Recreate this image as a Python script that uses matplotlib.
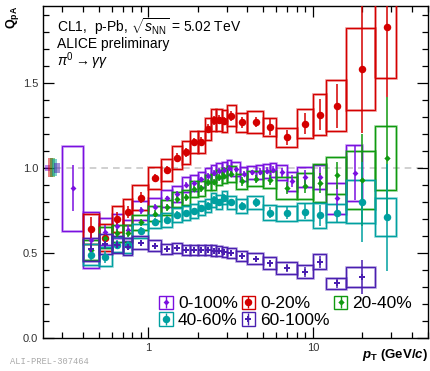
import numpy as np
import matplotlib
matplotlib.use("Agg")
import matplotlib.pyplot as plt
from matplotlib.patches import Rectangle
from matplotlib.lines import Line2D
from matplotlib.ticker import FixedLocator, MultipleLocator, FormatStrFormatter, LogLocator, NullFormatter

plt.rcParams['font.family'] = ['Liberation Sans', 'DejaVu Sans']
plt.rcParams['mathtext.fontset'] = 'custom'
plt.rcParams['mathtext.rm'] = 'Liberation Sans'
plt.rcParams['mathtext.it'] = 'Liberation Sans:italic'
plt.rcParams['mathtext.bf'] = 'Liberation Sans:bold:italic'
plt.rcParams['mathtext.sf'] = 'Liberation Sans:bold'

# pT bin edges
edges_mb = [0.3, 0.4, 0.5, 0.6, 0.7, 0.8, 1.0, 1.2, 1.4, 1.6, 1.8, 2.0, 2.2, 2.4, 2.6, 2.8, 3.0,
            3.2, 3.6, 4.0, 4.5, 5.0, 5.5, 6.0, 7.0, 8.0, 10, 12, 16, 20]
edges_cent = [0.4, 0.5, 0.6, 0.7, 0.8, 1.0, 1.2, 1.4, 1.6, 1.8, 2.0, 2.2, 2.4, 2.6, 2.8, 3.0,
              3.4, 4.0, 5.0, 6.0, 8.0, 10, 12, 16, 24, 32]
edges_per = edges_cent[:-1]

# 0-100%
q_0100 = [0.88, 0.576, 0.625, 0.657, 0.632, 0.75, 0.77, 0.82, 0.846, 0.90, 0.91, 0.933, 0.953, 0.969,
          0.982, 0.988, 1.0, 0.992, 0.965, 0.973, 0.976, 0.982, 0.988, 0.973, 0.92, 0.945, 0.945, 0.82, 0.97]
stat_0100 = [0.135, 0.05, 0.04, 0.03, 0.03, 0.02, 0.015, 0.015, 0.015, 0.015, 0.015, 0.015, 0.015, 0.015,
             0.015, 0.015, 0.015, 0.015, 0.015, 0.015, 0.02, 0.02, 0.02, 0.025, 0.035, 0.04, 0.06, 0.08, 0.16]
sys_0100 = [0.25, 0.165, 0.08, 0.07, 0.06, 0.055, 0.05, 0.05, 0.045, 0.045, 0.045, 0.045, 0.045, 0.045,
            0.045, 0.045, 0.045, 0.04, 0.04, 0.04, 0.04, 0.04, 0.04, 0.045, 0.055, 0.06, 0.07, 0.09, 0.166]

# 0-20%
q_020 = [0.64, 0.59, 0.70, 0.74, 0.825, 0.94, 0.988, 1.06, 1.09, 1.15, 1.153, 1.23, 1.278, 1.283, 1.275,
         1.306, 1.266, 1.268, 1.24, 1.178, 1.259, 1.312, 1.363, 1.582, 1.828]
stat_020 = [0.07, 0.04, 0.04, 0.035, 0.03, 0.025, 0.025, 0.025, 0.025, 0.025, 0.025, 0.025, 0.025, 0.025,
            0.025, 0.03, 0.03, 0.03, 0.045, 0.045, 0.06, 0.09, 0.13, 0.38, 0.41]
sys_020 = [0.09, 0.08, 0.075, 0.075, 0.075, 0.065, 0.065, 0.065, 0.065, 0.065, 0.065, 0.065, 0.065, 0.065,
           0.065, 0.06, 0.055, 0.063, 0.055, 0.058, 0.085, 0.12, 0.15, 0.24, 0.3]

# 20-40%
q_2040 = [0.518, 0.59, 0.616, 0.616, 0.68, 0.73, 0.768, 0.814, 0.827, 0.875, 0.88, 0.914, 0.916, 0.943,
          0.953, 0.963, 0.92, 0.935, 0.929, 0.88, 0.894, 0.91, 0.955, 0.93, 1.057]
stat_2040 = [0.03, 0.03, 0.025, 0.025, 0.02, 0.02, 0.02, 0.02, 0.02, 0.02, 0.02, 0.02, 0.02, 0.02,
             0.02, 0.02, 0.025, 0.025, 0.03, 0.035, 0.045, 0.06, 0.08, 0.27, 0.36]
sys_2040 = [0.06, 0.06, 0.05, 0.05, 0.045, 0.045, 0.045, 0.045, 0.045, 0.045, 0.045, 0.045, 0.045, 0.045,
            0.045, 0.045, 0.045, 0.045, 0.05, 0.065, 0.077, 0.11, 0.11, 0.17, 0.19]

# 40-60%
q_4060 = [0.49, 0.478, 0.548, 0.545, 0.63, 0.684, 0.694, 0.724, 0.733, 0.746, 0.763, 0.778, 0.812, 0.798,
          0.825, 0.797, 0.776, 0.796, 0.737, 0.733, 0.743, 0.72, 0.733, 0.80, 0.71]
stat_4060 = [0.03, 0.035, 0.025, 0.025, 0.02, 0.02, 0.02, 0.02, 0.02, 0.02, 0.02, 0.02, 0.02, 0.02,
             0.02, 0.02, 0.025, 0.025, 0.03, 0.035, 0.045, 0.06, 0.05, 0.235, 0.315]
sys_4060 = [0.06, 0.055, 0.045, 0.045, 0.04, 0.04, 0.04, 0.04, 0.04, 0.04, 0.04, 0.04, 0.04, 0.04,
            0.04, 0.04, 0.04, 0.04, 0.045, 0.045, 0.05, 0.075, 0.054, 0.127, 0.113]

# 60-100%
q_60100 = [0.52, 0.551, 0.547, 0.537, 0.561, 0.543, 0.522, 0.528, 0.516, 0.516, 0.516, 0.516, 0.514, 0.51,
           0.505, 0.498, 0.48, 0.467, 0.439, 0.41, 0.39, 0.449, 0.322, 0.36]
stat_60100 = [0.04, 0.03, 0.025, 0.02, 0.015, 0.012, 0.012, 0.012, 0.012, 0.012, 0.012, 0.012, 0.012, 0.012,
              0.012, 0.012, 0.015, 0.015, 0.02, 0.025, 0.03, 0.035, 0.03, 0.1]
sys_60100 = [0.07, 0.06, 0.05, 0.05, 0.04, 0.03, 0.03, 0.03, 0.03, 0.03, 0.03, 0.03, 0.03, 0.03,
             0.03, 0.03, 0.03, 0.035, 0.035, 0.035, 0.04, 0.042, 0.033, 0.06]

labels = ['0-100%', '0-20%', '20-40%', '40-60%', '60-100%']
norm_unc = [0.018, 0.055, 0.055, 0.05, 0.03]

colors = ['#7a10e0', '#d40000', '#109a10', '#00a0a0', '#4a1fb0']
markers = ['D', 'o', 'D', 'o', 'P']
msizes = [3.0, 5.4, 3.2, 5.4, 5.0]

fig = plt.figure(figsize=(4.3, 3.71), dpi=100)
ax = fig.add_axes([0.1, 0.0889, 0.8953, 0.8949])
ax.set_xscale('log')
ax.set_xlim(0.23, 50)
ax.set_ylim(0, 1.95)

ax.axhline(1.0, color='#c8c8c8', lw=1.2, ls=(0, (4, 3)), zorder=1)

# normalisation boxes near the left edge
norm_x = [(0.236, 0.252), (0.247, 0.265), (0.253, 0.272), (0.26, 0.279), (0.27, 0.29)]
for (x0, x1), u, c in zip(norm_x, norm_unc, colors):
    ax.add_patch(Rectangle((x0, 1 - u), x1 - x0, 2 * u, fc=c, ec='none', alpha=0.5, zorder=2))


def draw(edges, q, stat, sys, color, marker, ms, z):
    edges = np.asarray(edges, dtype=float)
    lo, hi = edges[:-1], edges[1:]
    x = 0.5 * (lo + hi)
    for l, h, v, s in zip(lo, hi, q, sys):
        ax.add_patch(Rectangle((l, v - s), h - l, 2 * s, fill=False, ec=color, lw=2.0, alpha=0.35, zorder=z))
        ax.add_patch(Rectangle((l, v - s), h - l, 2 * s, fill=False, ec=color, lw=0.9, zorder=z))
    ax.errorbar(x, q, yerr=stat, fmt=marker, color=color, ms=ms, mew=0, elinewidth=1.1,
                capsize=0, zorder=z + 1)


draw(edges_mb, q_0100, stat_0100, sys_0100, colors[0], markers[0], msizes[0], 3)
draw(edges_cent, q_020, stat_020, sys_020, colors[1], markers[1], msizes[1], 3)
draw(edges_cent, q_2040, stat_2040, sys_2040, colors[2], markers[2], msizes[2], 3)
draw(edges_cent, q_4060, stat_4060, sys_4060, colors[3], markers[3], msizes[3], 3)
draw(edges_per, q_60100, stat_60100, sys_60100, colors[4], markers[4], msizes[4], 3)

# axes styling
ax.xaxis.set_major_locator(FixedLocator([1, 10]))
ax.xaxis.set_major_formatter(FormatStrFormatter('%g'))
ax.xaxis.set_minor_locator(LogLocator(subs=np.arange(2, 10)))
ax.xaxis.set_minor_formatter(NullFormatter())
ax.yaxis.set_major_locator(MultipleLocator(0.5))
ax.yaxis.set_minor_locator(MultipleLocator(0.1))
ax.yaxis.set_major_formatter(FormatStrFormatter('%.1f'))
ax.tick_params(which='both', direction='in', top=True, right=True, labelsize=8,
               labelcolor='#333333', width=0.9)
ax.tick_params(which='major', length=8)
ax.tick_params(which='minor', length=4.3)
for s in ax.spines.values():
    s.set_linewidth(1.0)

fig.text(0.995, 0.022, r"$\mathbf{p}_{\mathsf{T}}$ (GeV/$\mathbf{c}$)", ha='right', va='bottom',
         fontsize=9.5, fontweight='bold')
fig.text(0.03, 0.985, r"Q$_{\mathsf{pA}}$", rotation=90, ha='center', va='top',
         fontsize=9, fontweight='bold')

ax.text(0.036, 0.921, r"CL1,  p-Pb, $\sqrt{s_{\mathrm{NN}}}$ = 5.02 TeV", transform=ax.transAxes,
        fontsize=10, va='baseline')
ax.text(0.036, 0.874, "ALICE preliminary", transform=ax.transAxes, fontsize=10, va='baseline')
ax.text(0.036, 0.818, r"$\pi^{0} \rightarrow \gamma\gamma$", transform=ax.transAxes, fontsize=10,
        va='baseline')

fig.text(0.023, 0.014, "ALI-PREL-307464", fontsize=6.3, color='#aaaaaa', family='Liberation Mono',
         va='bottom')

# legend: box with marker and error bar
handles = []
for c, m, ms in zip(colors, markers, msizes):
    box = Rectangle((0, 0), 1, 1, fill=False, ec=c, lw=1.0)
    bar = Line2D([], [], marker='|', ls='none', color=c, ms=8, mew=1.0)
    dot = Line2D([], [], marker=m, ls='none', color=c, ms=ms, mew=0)
    handles.append((box, bar, dot))
order = [0, 3, 1, 4, 2]
ax.legend([handles[i] for i in order], [labels[i] for i in order], ncol=3, frameon=False,
          loc='upper left', bbox_to_anchor=(0.302, 0.128), fontsize=12.5, handlelength=0.78,
          handleheight=0.78, handletextpad=0.3, columnspacing=0.22, labelspacing=0.08, borderpad=0,
          borderaxespad=0)

fig.savefig('out.png', dpi=100)
